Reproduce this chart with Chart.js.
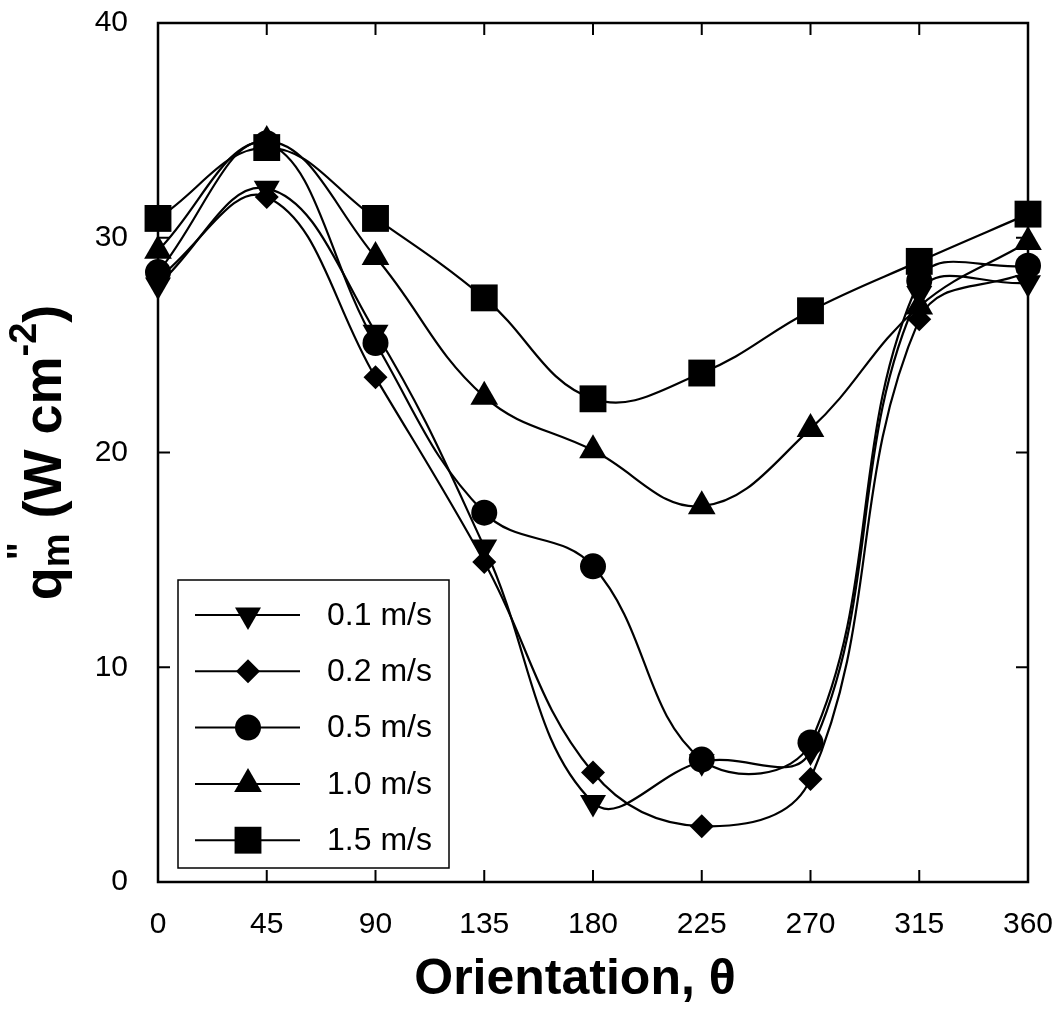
<!DOCTYPE html>
<html lang="en">
<head>
    <meta charset="utf-8" />
    <title>q''m vs orientation</title>
    <style>
        html, body {
            margin: 0;
            padding: 0;
            background: #fff;
        }

        #wrap {
            width: 1056px;
            height: 1011px;
        }
    </style>
</head>
<body>
    <div id="wrap"><canvas id="chart" width="1056" height="1011"></canvas></div>

    <script src="https://cdn.jsdelivr.net/npm/chart.js@4.4.3/dist/chart.umd.min.js"></script>
    <script>
        // orientation angles (deg)
        const angles = [0, 45, 90, 135, 180, 225, 270, 315, 360];
        const xTicks = [0, 45, 90, 135, 180, 225, 270, 315, 360];
        const yTicks = [0, 10, 20, 30, 40];

        // q''m (W cm-2) per velocity
        const v01 = [27.8, 32.3, 25.6, 15.6, 3.7, 5.6, 6.1, 27.4, 27.9];
        const v02 = [28.1, 31.9, 23.5, 14.9, 5.1, 2.6, 4.8, 26.2, 28.4];
        const v05 = [28.4, 34.4, 25.1, 17.2, 14.7, 5.7, 6.5, 28.0, 28.7];
        const v10 = [29.4, 34.5, 29.1, 22.6, 20.1, 17.5, 21.1, 26.8, 29.8];
        const v15 = [30.9, 34.2, 30.9, 27.2, 22.5, 23.7, 26.6, 28.9, 31.1];

        const labels = ['0.1 m/s', '0.2 m/s', '0.5 m/s', '1.0 m/s', '1.5 m/s'];

        const FONT = 'Arial, "Liberation Sans", Helvetica, sans-serif';

        const markers = [
            { style: 'triangle', rotation: 180, radius: 15 },
            { style: 'rectRot', rotation: 0, radius: 12 },
            { style: 'circle', rotation: 0, radius: 13 },
            { style: 'triangle', rotation: 0, radius: 16 },
            { style: 'rect', rotation: 0, radius: 19 }
        ];

        const series = [v01, v02, v05, v10, v15];

        const datasets = series.map((vals, i) => ({
            label: labels[i],
            data: angles.map((a, j) => ({ x: a, y: vals[j] })),
            borderColor: '#000',
            borderWidth: 2.2,
            backgroundColor: '#000',
            pointStyle: markers[i].style,
            pointRotation: markers[i].rotation,
            pointRadius: markers[i].radius,
            pointBackgroundColor: '#000',
            pointBorderWidth: 0,
            tension: 0.4,
            fill: false,
            clip: false
        }));

        // frame, inward ticks, legend box and axis titles
        const decorations = {
            id: 'decorations',
            afterDraw(chart) {
                const ctx = chart.ctx;
                const area = chart.chartArea;
                const xs = chart.scales.x;
                const ys = chart.scales.y;

                ctx.save();
                ctx.strokeStyle = '#000';
                ctx.lineWidth = 2.5;
                ctx.strokeRect(area.left, area.top, area.right - area.left, area.bottom - area.top);

                const tl = 12;
                ctx.lineWidth = 2;
                ctx.beginPath();
                xTicks.slice(1, -1).forEach(v => {
                    const px = xs.getPixelForValue(v);
                    ctx.moveTo(px, area.bottom);
                    ctx.lineTo(px, area.bottom - tl);
                    ctx.moveTo(px, area.top);
                    ctx.lineTo(px, area.top + tl);
                });
                yTicks.slice(1, -1).forEach(v => {
                    const py = ys.getPixelForValue(v);
                    ctx.moveTo(area.left, py);
                    ctx.lineTo(area.left + tl, py);
                    ctx.moveTo(area.right, py);
                    ctx.lineTo(area.right - tl, py);
                });
                ctx.stroke();

                // legend
                const lx = 178, ly = 580, lw = 271, lh = 288;
                ctx.fillStyle = '#fff';
                ctx.fillRect(lx, ly, lw, lh);
                ctx.lineWidth = 1.5;
                ctx.strokeRect(lx, ly, lw, lh);
                ctx.fillStyle = '#000';
                ctx.font = '32px ' + FONT;
                ctx.textBaseline = 'middle';
                ctx.textAlign = 'left';
                labels.forEach((lab, i) => {
                    const ry = 615 + i * 56.3;
                    ctx.lineWidth = 2;
                    ctx.beginPath();
                    ctx.moveTo(195, ry);
                    ctx.lineTo(300, ry);
                    ctx.stroke();
                    Chart.helpers.drawPoint(ctx, {
                        pointStyle: markers[i].style,
                        rotation: markers[i].rotation,
                        radius: markers[i].radius,
                        borderWidth: 0
                    }, 248, ry);
                    ctx.fillText(lab, 327, ry + 1);
                });

                // x title
                ctx.font = 'bold 50px ' + FONT;
                ctx.textAlign = 'center';
                ctx.fillText('Orientation, \u03b8', 575, 980);

                // y title with sub/superscripts
                const big = 'bold 54px ' + FONT;
                const small = 'bold 38px ' + FONT;
                const parts = [
                    { t: 'q', f: big, dy: 0, adv: true },
                    { t: '"', f: small, dy: -22, adv: false },
                    { t: 'm', f: small, dy: 13, adv: true },
                    { t: ' (W cm', f: big, dy: 0, adv: true },
                    { t: '-2', f: small, dy: -20, adv: true },
                    { t: ')', f: big, dy: 0, adv: true }
                ];
                let total = 0;
                parts.forEach(p => {
                    ctx.font = p.f;
                    p.w = ctx.measureText(p.t).width;
                    if (p.adv) total += p.w;
                });
                ctx.translate(46, (area.top + area.bottom) / 2);
                ctx.rotate(-Math.PI / 2);
                ctx.textAlign = 'left';
                ctx.textBaseline = 'middle';
                let cx = -total / 2;
                parts.forEach(p => {
                    ctx.font = p.f;
                    ctx.fillText(p.t, cx + (p.adv ? 0 : 7), p.dy);
                    if (p.adv) cx += p.w;
                });
                ctx.restore();
            }
        };

        new Chart(document.getElementById('chart'), {
            type: 'line',
            data: { datasets: datasets },
            options: {
                responsive: false,
                animation: false,
                events: [],
                layout: {
                    autoPadding: false,
                    padding: { left: 0, right: 28, top: 23, bottom: 0 }
                },
                plugins: {
                    legend: { display: false },
                    title: { display: false },
                    tooltip: { enabled: false }
                },
                scales: {
                    x: {
                        type: 'linear',
                        min: 0,
                        max: 360,
                        grid: { display: false },
                        border: { display: false },
                        afterFit(scale) {
                            scale.height = 129;
                            scale.paddingLeft = 0;
                            scale.paddingRight = 0;
                        },
                        afterBuildTicks(scale) { scale.ticks = xTicks.map(v => ({ value: v })); },
                        ticks: {
                            color: '#000',
                            padding: 17,
                            maxRotation: 0,
                            font: { size: 30, family: FONT }
                        }
                    },
                    y: {
                        min: 0,
                        max: 40,
                        grid: { display: false },
                        border: { display: false },
                        afterFit(scale) {
                            scale.width = 158;
                            scale.paddingTop = 0;
                            scale.paddingBottom = 0;
                        },
                        afterBuildTicks(scale) { scale.ticks = yTicks.map(v => ({ value: v })); },
                        ticks: {
                            color: '#000',
                            padding: 22,
                            font: { size: 30, family: FONT }
                        }
                    }
                }
            },
            plugins: [decorations]
        });
    </script>
</body>
</html>
